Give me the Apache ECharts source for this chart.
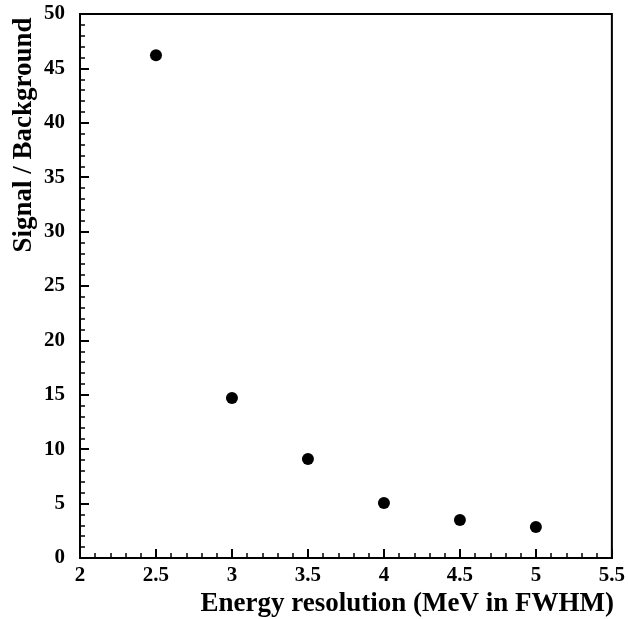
<!DOCTYPE html>
<html>
<head>
<meta charset="utf-8">
<script src="https://cdn.jsdelivr.net/npm/echarts@6/dist/echarts.min.js"></script>
<style>
  html, body { margin: 0; padding: 0; background: #fff; }
  #main { width: 628px; height: 619px; }
</style>
</head>
<body>
<div id="main"></div>
<script>
// energy resolution (MeV FWHM) vs signal/background
const resolution = [2.5, 3.0, 3.5, 4.0, 4.5, 5.0];
const sbRatio = [46.2, 14.7, 9.1, 5.05, 3.5, 2.85];

const font = 'Liberation Serif';

let chart = echarts.init(document.getElementById('main'));
let option = {
  animation: false,
  backgroundColor: '#fff',
  grid: {
    left: 80, top: 14, right: 14, bottom: 61,
    show: true, borderColor: '#000', borderWidth: 2
  },
  xAxis: {
    type: 'value',
    min: 2, max: 5.5, interval: 0.5,
    axisLine: { lineStyle: { color: '#000', width: 2 } },
    axisTick: { inside: true, length: 9, lineStyle: { color: '#000', width: 2 } },
    minorTick: { show: true, splitNumber: 5, length: 5, lineStyle: { color: '#000', width: 1.5 } },
    splitLine: { show: false },
    axisLabel: { color: '#000', fontFamily: font, fontWeight: 'bold', fontSize: 21, margin: 7 }
  },
  yAxis: {
    type: 'value',
    min: 0, max: 50, interval: 5,
    axisLine: { lineStyle: { color: '#000', width: 2 } },
    axisTick: { inside: true, length: 9, lineStyle: { color: '#000', width: 2 } },
    minorTick: { show: true, splitNumber: 5, length: 5, lineStyle: { color: '#000', width: 1.5 } },
    splitLine: { show: false },
    axisLabel: { color: '#000', fontFamily: font, fontWeight: 'bold', fontSize: 21, margin: 15 }
  },
  graphic: [
    {
      type: 'text', right: 14, top: 591,
      style: { text: 'Energy resolution (MeV in FWHM)', fill: '#000',
        font: 'bold 27px "Liberation Serif"' }
    },
    {
      type: 'text', x: 24, y: 135, rotation: Math.PI / 2,
      style: { text: 'Signal / Background', fill: '#000', align: 'center', verticalAlign: 'middle',
        font: 'bold 27px "Liberation Serif"' }
    }
  ],
  series: [
    {
      type: 'scatter',
      data: resolution.map((x, i) => [x, sbRatio[i]]),
      symbol: 'circle',
      symbolSize: 12,
      itemStyle: { color: '#000', opacity: 1 }
    }
  ]
};
chart.setOption(option);
</script>
</body>
</html>
